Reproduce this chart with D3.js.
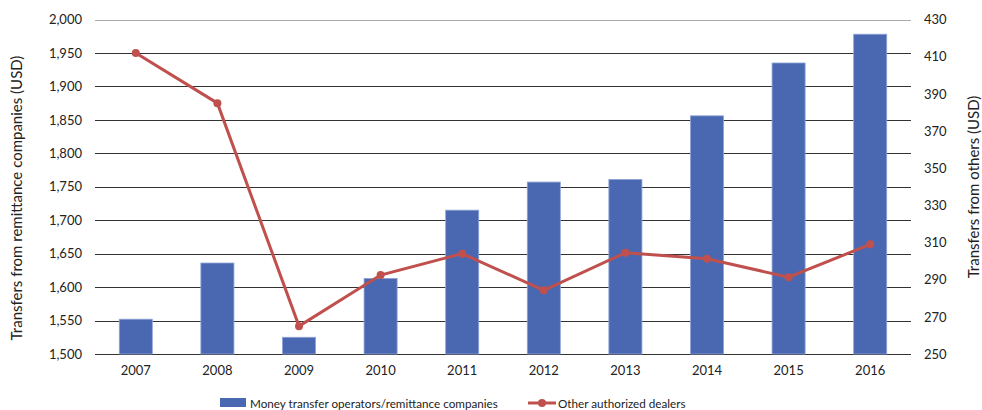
<!DOCTYPE html>
<html><head><meta charset="utf-8">
<script src="https://cdn.jsdelivr.net/npm/d3@7"></script>
<style>body{margin:0;background:#fff}svg{display:block}text{font-family:Lato,"Open Sans",sans-serif;fill:#222}</style>
</head><body><svg id="c" width="982" height="410"></svg>
<script>
const years = ["2007","2008","2009","2010","2011","2012","2013","2014","2015","2016"];
const mtoValues = [1552,1636,1525,1613,1715,1757,1761,1856,1935,1978];
const otherValues = [412,385,265,292.5,304,284.3,304.5,301.3,291.3,309];
const leftTicks = [1500,1550,1600,1650,1700,1750,1800,1850,1900,1950,2000];
const rightTicks = [250,270,290,310,330,350,370,390,410,430];
const seriesNames = ["Money transfer operators/remittance companies","Other authorized dealers"];

const svg = d3.select("#c");
const L=95, R=911, T=19.5, B=354;
const x = d3.scaleBand().domain(years).range([L,R]).paddingInner(0.595).paddingOuter(0.2975);
const yL = d3.scaleLinear().domain([1500,2000]).range([B,T]);
const yR = d3.scaleLinear().domain([250,430]).range([B,T]);

// gridlines
svg.append("g").selectAll("line").data(leftTicks).join("line")
  .attr("x1",L).attr("x2",R).attr("y1",d=>Math.round(yL(d))+0.5).attr("y2",d=>Math.round(yL(d))+0.5)
  .attr("stroke",d=>d===2000?"#aaa":"#333").attr("stroke-width",1);

// left axis
const ga = svg.append("g").attr("transform",`translate(${L},0)`)
  .call(d3.axisLeft(yL).tickValues(leftTicks).tickFormat(d3.format(",")).tickSize(0).tickPadding(13));
ga.select(".domain").remove();
ga.selectAll("text").style("font-size","13px").style("fill","#222").style("font-family","Lato");
// right axis
const gr = svg.append("g").attr("transform",`translate(${R},0)`)
  .call(d3.axisRight(yR).tickValues(rightTicks).tickSize(0).tickPadding(13));
gr.select(".domain").remove();
gr.selectAll("text").style("font-size","13px").style("fill","#222").style("font-family","Lato");
// bottom axis labels
const gb = svg.append("g").attr("transform",`translate(0,${B})`)
  .call(d3.axisBottom(x).tickSize(0).tickPadding(12));
gb.select(".domain").remove();
gb.selectAll("text").style("font-size","13px").style("fill","#222").style("font-family","Lato");

// bars
svg.append("g").selectAll("rect").data(years).join("rect")
  .attr("x",d=>x(d)).attr("width",x.bandwidth())
  .attr("y",(d,i)=>yL(mtoValues[i])).attr("height",(d,i)=>B-yL(mtoValues[i]))
  .attr("fill","#4A68B1").attr("stroke","#8fa3d6").attr("stroke-width",0.8);

// line
const cx = d=>x(d)+x.bandwidth()/2;
svg.append("path").datum(years)
  .attr("d",d3.line().x(cx).y((d,i)=>yR(otherValues[i])))
  .attr("fill","none").attr("stroke","#C0504D").attr("stroke-width",3);
svg.append("g").selectAll("circle").data(years).join("circle")
  .attr("cx",cx).attr("cy",(d,i)=>yR(otherValues[i])).attr("r",4).attr("fill","#C0504D");

// axis titles
svg.append("text").attr("transform",`translate(22,198) rotate(-90)`)
  .attr("text-anchor","middle").style("font-size","15px").text("Transfers from remittance companies (USD)");
svg.append("text").attr("transform",`translate(979,187) rotate(-90)`)
  .attr("text-anchor","middle").style("font-size","15px").text("Transfers from others (USD)");

// legend
const lg = svg.append("g");
lg.append("rect").attr("x",220).attr("y",398).attr("width",26).attr("height",9).attr("fill","#4A68B1");
lg.append("text").attr("x",250).attr("y",407.5).style("font-size","11.7px").text(seriesNames[0]);
lg.append("line").attr("x1",528).attr("x2",556).attr("y1",403).attr("y2",403).attr("stroke","#C0504D").attr("stroke-width",3);
lg.append("circle").attr("cx",542).attr("cy",403).attr("r",4).attr("fill","#C0504D");
lg.append("text").attr("x",558).attr("y",407.5).style("font-size","11.7px").text(seriesNames[1]);
</script></body></html>
